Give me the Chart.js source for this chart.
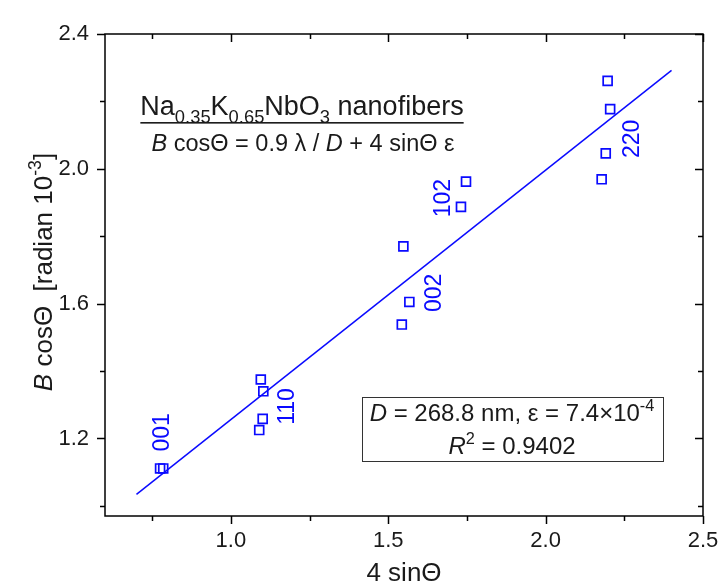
<!DOCTYPE html>
<html>
<head>
<meta charset="utf-8">
<script src="https://cdn.jsdelivr.net/npm/chart.js@4.4.1/dist/chart.umd.min.js"></script>
<style>
  html, body { margin: 0; padding: 0; background: #fff; }
  #wrap { width: 723px; height: 585px; }
</style>
</head>
<body>
<div id="wrap"><canvas id="chart" width="723" height="585"></canvas></div>
<script>
// 4 sinΘ vs B cosΘ (radian 10^-3)
const sinX = [0.775, 0.785, 1.095, 1.103, 1.101, 1.090, 1.548, 1.567, 1.543, 1.731, 1.747, 2.178, 2.191, 2.205, 2.197];
const cosY = [1.111, 1.111, 1.375, 1.340, 1.258, 1.225, 1.770, 1.605, 1.538, 1.887, 1.962, 1.969, 2.046, 2.177, 2.261];

// linear fit, end points
const fitX = [0.70, 2.40];
const fitY = [1.034, 2.292];

const xTicks = [0.75, 1.0, 1.25, 1.5, 1.75, 2.0, 2.25, 2.5];
const xLabels = ['', '1.0', '', '1.5', '', '2.0', '', '2.5'];
const yTicks = [1.0, 1.2, 1.4, 1.6, 1.8, 2.0, 2.2, 2.4];
const yLabels = ['', '1.2', '', '1.6', '', '2.0', '', '2.4'];

// reflection labels (hkl)
const peakNames = ['001', '110', '002', '102', '220'];
const peakX = [0.777, 1.175, 1.643, 1.670, 2.271];
const peakY = [1.218, 1.295, 1.632, 1.913, 2.089];

const FONT = '"Liberation Sans", Arial, sans-serif';
const BLUE = '#0a0aff';
const INK = '#1a1a1a';

// draw a run of text pieces (italic / sub / sup) centred on cx, baseline y
function drawRuns(ctx, runs, size, cx, y, underline) {
  const pieces = runs.map(r => {
    const s = (r.sub || r.sup) ? size * 0.68 : size;
    const f = (r.it ? 'italic ' : '') + s + 'px ' + FONT;
    ctx.font = f;
    return { t: r.t, f, w: ctx.measureText(r.t).width, dy: r.sub ? size * 0.28 : (r.sup ? -size * 0.42 : 0) };
  });
  const total = pieces.reduce((a, p) => a + p.w, 0);
  let x = cx - total / 2;
  ctx.textAlign = 'left';
  ctx.textBaseline = 'alphabetic';
  pieces.forEach(p => {
    ctx.font = p.f;
    ctx.fillText(p.t, x, y + p.dy);
    x += p.w;
  });
  if (underline) {
    ctx.fillRect(cx - total / 2, y + size * 0.26, total, 1.6);
  }
}

const framePlugin = {
  id: 'frame',
  afterDraw(chart) {
    const ctx = chart.ctx;
    const { left, right, top, bottom } = chart.chartArea;
    const xs = chart.scales.x, ys = chart.scales.y;
    ctx.save();
    ctx.strokeStyle = '#000';
    ctx.lineWidth = 1.5;
    ctx.strokeRect(left, top, right - left, bottom - top);

    ctx.beginPath();
    xTicks.forEach((v, i) => {
      const px = Math.round(xs.getPixelForValue(v)) + 0.5;
      const len = xLabels[i] ? 8 : 5;
      ctx.moveTo(px, bottom); ctx.lineTo(px, bottom + len);
      ctx.moveTo(px, top); ctx.lineTo(px, top + len);
    });
    yTicks.forEach((v, i) => {
      const py = Math.round(ys.getPixelForValue(v)) + 0.5;
      const len = yLabels[i] ? 8 : 5;
      ctx.moveTo(left, py); ctx.lineTo(left - len, py);
      ctx.moveTo(right, py); ctx.lineTo(right - len, py);
    });
    ctx.stroke();

    // axis titles
    ctx.fillStyle = INK;
    drawRuns(ctx, [{ t: '4 sinΘ' }], 26, (left + right) / 2, 581);
    ctx.save();
    ctx.translate(52, 272);
    ctx.rotate(-Math.PI / 2);
    drawRuns(ctx, [{ t: 'B', it: 1 }, { t: ' cosΘ  [radian 10' }, { t: '-3', sup: 1 }, { t: ']' }], 26, 0, 0);
    ctx.restore();

    // compound name and Williamson-Hall relation
    drawRuns(ctx, [{ t: 'Na' }, { t: '0.35', sub: 1 }, { t: 'K' }, { t: '0.65', sub: 1 }, { t: 'NbO' }, { t: '3', sub: 1 }, { t: ' nanofibers' }], 27, 302, 115, true);
    drawRuns(ctx, [{ t: 'B', it: 1 }, { t: ' cosΘ = 0.9 λ / ' }, { t: 'D', it: 1 }, { t: ' + 4 sinΘ ε' }], 23.5, 303, 151);

    // fit result box
    ctx.strokeStyle = '#333';
    ctx.lineWidth = 1;
    ctx.strokeRect(362.5, 397.5, 301, 64);
    drawRuns(ctx, [{ t: 'D', it: 1 }, { t: ' = 268.8 nm, ε = 7.4×10' }, { t: '-4', sup: 1 }], 24, 512, 421);
    drawRuns(ctx, [{ t: 'R', it: 1 }, { t: '2', sup: 1 }, { t: ' = 0.9402' }], 24, 512, 454);

    // reflection labels
    ctx.fillStyle = BLUE;
    peakNames.forEach((name, i) => {
      ctx.save();
      ctx.translate(xs.getPixelForValue(peakX[i]), ys.getPixelForValue(peakY[i]));
      ctx.rotate(-Math.PI / 2);
      drawRuns(ctx, [{ t: name }], 23, 0, 8);
      ctx.restore();
    });
    ctx.restore();
  }
};

new Chart(document.getElementById('chart'), {
  type: 'scatter',
  data: {
    datasets: [{
      label: 'data',
      data: sinX.map((x, i) => ({ x, y: cosY[i] })),
      pointStyle: 'rect',
      pointRadius: 6.3,
      borderWidth: 1.7,
      borderColor: BLUE,
      backgroundColor: 'rgba(0,0,0,0)'
    }, {
      label: 'fit',
      data: fitX.map((x, i) => ({ x, y: fitY[i] })),
      showLine: true,
      pointRadius: 0,
      borderWidth: 1.5,
      borderColor: BLUE
    }]
  },
  options: {
    responsive: false,
    animation: false,
    devicePixelRatio: 1,
    layout: { padding: { top: 34, right: 20, left: 0, bottom: 0 } },
    plugins: { legend: { display: false }, tooltip: { enabled: false } },
    scales: {
      x: {
        type: 'linear', min: 0.6, max: 2.5,
        afterBuildTicks: s => { s.ticks = xTicks.map(v => ({ value: v })); },
        afterFit: s => { s.height = 69; s.paddingLeft = 0; s.paddingRight = 0; },
        grid: { display: false, drawTicks: false },
        border: { display: false },
        ticks: {
          autoSkip: false, maxRotation: 0, padding: 12, color: INK,
          font: { family: FONT, size: 22 },
          callback: (v, i) => xLabels[i]
        }
      },
      y: {
        type: 'linear', min: 0.97, max: 2.4,
        afterBuildTicks: s => { s.ticks = yTicks.map(v => ({ value: v })); },
        afterFit: s => { s.width = 105; s.paddingTop = 0; s.paddingBottom = 0; },
        grid: { display: false, drawTicks: false },
        border: { display: false },
        ticks: {
          autoSkip: false, padding: 16, color: INK,
          font: { family: FONT, size: 22 },
          callback: (v, i) => yLabels[i]
        }
      }
    }
  },
  plugins: [framePlugin]
});
</script>
</body>
</html>
